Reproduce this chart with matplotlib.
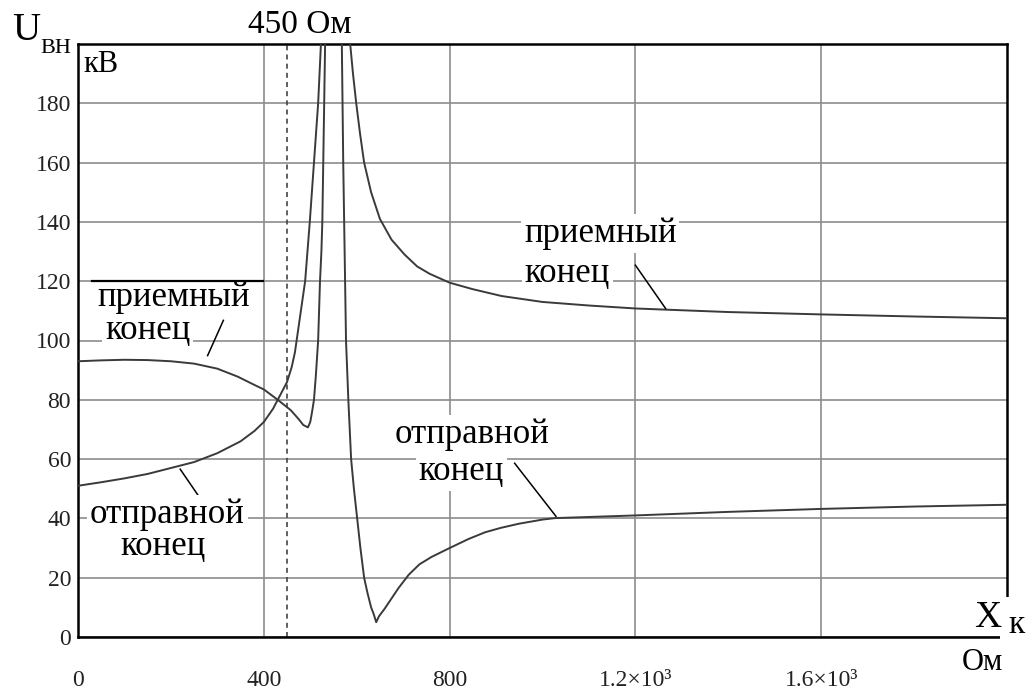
import numpy as np
import matplotlib
matplotlib.use('Agg')
import matplotlib.pyplot as plt
from matplotlib.patches import Rectangle

plt.rcParams['font.family'] = ['Liberation Serif', 'DejaVu Serif']

# sending end (отправной конец), two branches around the resonance
x_send_a = [0, 50, 100, 150, 200, 250, 300, 350, 380, 400, 420, 430, 450, 460, 467,
            478, 489, 499, 508, 517, 523, 527]
y_send_a = [51, 52.2, 53.5, 55, 57, 59, 62, 66, 69.5, 72.5, 77, 80, 86, 91, 96,
            108, 120, 140, 160, 180, 200, 230]
x_send_b = [567, 568, 569.5, 571, 573, 575, 577, 582, 588, 594, 601, 608, 616, 623,
            631, 636, 642, 648, 660, 675, 690, 712, 735, 761, 800, 840, 876, 910,
            949, 1000, 1027, 1200, 1400, 1600, 1800, 2000]
y_send_b = [230, 200, 180, 160, 140, 120, 100, 80, 60, 50, 40, 30, 20, 15,
            10, 8, 5, 7, 9.5, 13, 16.5, 21, 24.5, 27, 30, 33, 35.3, 36.8,
            38.2, 39.6, 40.1, 41, 42.2, 43.2, 44, 44.6]

# receiving end (приемный конец)
x_recv_a = [0, 50, 100, 150, 200, 250, 300, 344, 380, 400, 430, 458, 475, 485, 495,
            500, 504, 508, 512, 517, 519, 521, 524, 526, 528, 530, 532, 534]
y_recv_a = [93, 93.3, 93.5, 93.4, 93, 92.2, 90.5, 87.8, 85, 83.5, 80, 76.5, 73.5, 71.5, 70.7,
            72.5, 76, 80, 88, 100, 110, 120, 130, 140, 160, 180, 200, 230]
x_recv_b = [582, 586, 592, 599, 607, 616, 631, 650, 675, 703, 730, 757, 800, 850,
            912, 1000, 1100, 1200, 1400, 1600, 1800, 2000]
y_recv_b = [260, 200, 190, 180, 170, 160, 150, 141, 134, 129, 125, 122.5, 119.5, 117.3,
            115, 113, 111.8, 110.8, 109.6, 108.8, 108.1, 107.5]

x_ticks = [0, 400, 800, 1200, 1600]
x_tick_labels = ['0', '400', '800', '1.2×10³', '1.6×10³']
y_ticks = [0, 20, 40, 60, 80, 100, 120, 140, 160, 180]
x_mark = 450

W, H = 1035, 693
fig = plt.figure(figsize=(W / 100, H / 100), dpi=100)
ax = fig.add_axes([78 / W, 1 - 637 / H, 929 / W, 593 / H])

curve_kw = dict(color='#3a3a3a', lw=1.4, zorder=3)
ax.plot(x_send_a, y_send_a, **curve_kw)
ax.plot(x_send_b, y_send_b, **curve_kw)
ax.plot(x_recv_a, y_recv_a, **curve_kw)
ax.plot(x_recv_b, y_recv_b, **curve_kw)

ax.axvline(x_mark, color='#444444', lw=1.2, ls=(0, (3, 2.5)), zorder=2)

ax.set_xlim(0, 2000)
ax.set_ylim(0, 200)
ax.set_xticks(x_ticks)
ax.set_xticklabels(x_tick_labels)
ax.set_yticks(y_ticks)
ax.tick_params(length=0, labelsize=17, labelcolor='#222222')
ax.tick_params(axis='x', pad=24)
ax.tick_params(axis='y', pad=5)
ax.grid(True, color='#8c8c8c', lw=1.2, zorder=1)
ax.set_axisbelow(True)
for s in ax.spines.values():
    s.set_linewidth(1.8)
    s.set_color('black')

# dark segment at 120 on the left
ax.plot([30, 398], [120, 120], color='black', lw=1.6, zorder=5)

# label lines: first line drawn over the second line's white box
top_kw = dict(fontsize=25, color='black', zorder=4.5, ha='left', va='baseline',
              bbox=dict(facecolor='white', edgecolor='none', pad=2))
bot_kw = dict(top_kw, zorder=4)
ax.text(41, 111.6, 'приемный', **top_kw)
ax.text(58, 100.6, 'конец', **bot_kw)
ax.text(26, 38.6, 'отправной', **top_kw)
ax.text(91, 27.6, 'конец', **bot_kw)
ax.text(960, 133.2, 'приемный', **top_kw)
ax.text(962, 119.7, 'конец', **bot_kw)
ax.text(681, 65.4, 'отправной', **top_kw)
ax.text(733, 53, 'конец', **bot_kw)

# leader lines
lead_kw = dict(color='black', lw=1.1, zorder=3)
ax.plot([313, 279], [106.8, 94.9], **lead_kw)
ax.plot([220, 262], [56.6, 47], **lead_kw)
ax.plot([1200, 1265], [125.4, 110.8], **lead_kw)
ax.plot([940, 1029], [58.6, 40.7], **lead_kw)

# white corner under the X_к label
ax.add_patch(Rectangle((0.9925, -0.02), 0.03, 0.088, transform=ax.transAxes,
                       facecolor='white', edgecolor='none', zorder=5, clip_on=False))

fig.text(12 / W, 1 - 40 / H, 'U', fontsize=28, ha='left', va='baseline')
fig.text(40 / W, 1 - 53 / H, 'ВН', fontsize=16, ha='left', va='baseline')
fig.text(83 / W, 1 - 72 / H, 'кВ', fontsize=22, ha='left', va='baseline')
fig.text(300 / W, 1 - 33 / H, '450 Ом', fontsize=24, ha='center', va='baseline')
fig.text(974 / W, 1 - 627 / H, 'X', fontsize=27, ha='left', va='baseline')
fig.text(1008 / W, 1 - 633 / H, 'к', fontsize=24, ha='left', va='baseline')
fig.text(982 / W, 1 - 670 / H, 'Ом', fontsize=22, ha='center', va='baseline')

fig.savefig('out.png', dpi=100, facecolor='white')
